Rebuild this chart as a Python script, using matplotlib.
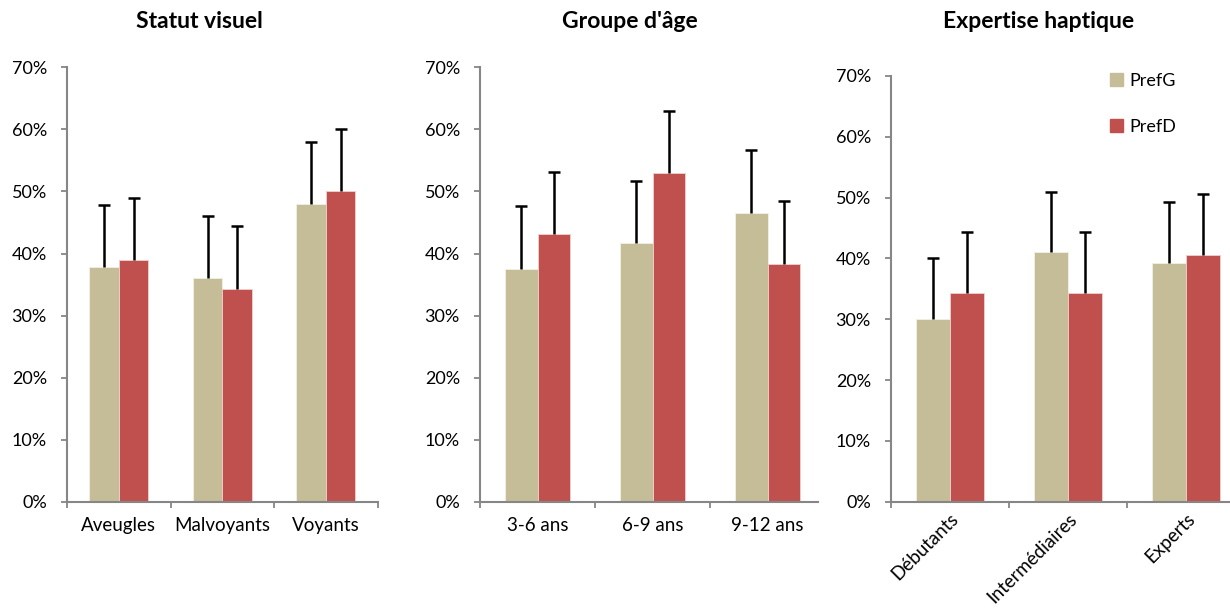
import numpy as np
import matplotlib
matplotlib.use("Agg")
import matplotlib.pyplot as plt
from matplotlib.patches import Patch
from matplotlib.ticker import PercentFormatter, FixedLocator

plt.rcParams['font.family'] = ['Lato', 'DejaVu Sans']

# ---- data ----
vis_cats = ['Aveugles', 'Malvoyants', 'Voyants']
vis_g = [37.8, 36.0, 48.0]
vis_d = [38.9, 34.3, 50.1]
vis_g_err = [10.0, 10.1, 10.0]
vis_d_err = [10.0, 10.1, 10.0]

age_cats = ['3-6 ans', '6-9 ans', '9-12 ans']
age_g = [37.6, 41.7, 46.6]
age_d = [43.1, 52.9, 38.4]
age_g_err = [10.1, 10.0, 10.1]
age_d_err = [10.0, 10.0, 10.0]

hap_cats = ['Débutants', 'Intermédiaires', 'Experts']
hap_g = [30.1, 41.0, 39.2]
hap_d = [34.3, 34.3, 40.5]
hap_g_err = [10.0, 9.9, 10.0]
hap_d_err = [10.0, 10.0, 10.1]

COL_G = '#C4BD97'
COL_D = '#C0504D'
AXIS_GRAY = '#868686'

W, H = 1230, 616
fig = plt.figure(figsize=(W / 100, H / 100), dpi=100)


def px_axes(left, right, top, bottom):
    return fig.add_axes([left / W, 1 - bottom / H, (right - left) / W, (bottom - top) / H])


def upper_err(ax, x, vals, errs):
    # only the upper half of the error bar, like the original
    vals = np.asarray(vals)
    top = vals + np.asarray(errs)
    ax.vlines(x, vals, top, color='black', linewidth=1.8, zorder=3)
    ax.plot(x, top, ls='none', marker='_', markersize=9, mew=1.8, color='black', zorder=3)


def draw_panel(ax, cats, g, d, g_err, d_err, xmax, rotate=False):
    x = np.arange(len(cats)) + 0.5
    bw = 0.285
    ax.bar(x - bw / 2, g, bw, color=COL_G, edgecolor='#F2F0E6', linewidth=0.6, zorder=2)
    ax.bar(x + bw / 2, d, bw, color=COL_D, edgecolor='#F0D0CF', linewidth=0.6, zorder=2)
    upper_err(ax, x - bw / 2, g, g_err)
    upper_err(ax, x + bw / 2, d, d_err)

    ax.set_xlim(0, xmax)
    ax.set_ylim(0, 70)
    ax.set_yticks(np.arange(0, 71, 10))
    ax.yaxis.set_major_formatter(PercentFormatter(decimals=0))

    # category boundaries as ticks, labels centred underneath
    ax.xaxis.set_major_locator(FixedLocator([0, 1, 2, 3]))
    ax.set_xticklabels([])
    if rotate:
        ax.set_xticks(x, cats, minor=True, rotation=45, ha='right', va='top',
                      rotation_mode='anchor')
        ax.tick_params(axis='x', which='minor', length=0, pad=6)
    else:
        ax.set_xticks(x, cats, minor=True)
        ax.tick_params(axis='x', which='minor', length=0, pad=11)
    ax.tick_params(axis='x', which='major', length=4.5, width=1.3, color=AXIS_GRAY)
    ax.tick_params(axis='y', length=4.5, width=1.3, color=AXIS_GRAY, pad=10)
    ax.tick_params(axis='x', which='both', labelsize=13.5, labelcolor='black')
    ax.tick_params(axis='y', labelsize=13, labelcolor='black')

    for s in ['top', 'right']:
        ax.spines[s].set_visible(False)
    for s in ['left', 'bottom']:
        ax.spines[s].set_color(AXIS_GRAY)
        ax.spines[s].set_linewidth(1.5)


ax1 = px_axes(67, 377.7, 67.3, 502)
draw_panel(ax1, vis_cats, vis_g, vis_d, vis_g_err, vis_d_err, 3.0)

ax2 = px_axes(480, 817.7, 67.3, 502)
draw_panel(ax2, age_cats, age_g, age_d, age_g_err, age_d_err, (817.7 - 480) / 115)

ax3 = px_axes(891, 1230, 76, 501.7)
draw_panel(ax3, hap_cats, hap_g, hap_d, hap_g_err, hap_d_err, (1230 - 891) / 118, rotate=True)

# titles
for xc, title in [(199, 'Statut visuel'), (630, "Groupe d'âge"), (1039, 'Expertise haptique')]:
    fig.text(xc / W, 1 - 21 / H, title, ha='center', va='center',
             fontsize=16.5, fontweight='bold')

# legend
handles = [Patch(color=COL_G, label='PrefG'), Patch(color=COL_D, label='PrefD')]
fig.legend(handles=handles, loc='upper left', bbox_to_anchor=(1110 / W, 1 - 73 / H),
           bbox_transform=fig.transFigure, frameon=False, fontsize=13,
           handlelength=0.72, handleheight=0.72, handletextpad=0.35,
           labelspacing=1.65, borderpad=0, borderaxespad=0)

fig.savefig('out.png', dpi=100)
